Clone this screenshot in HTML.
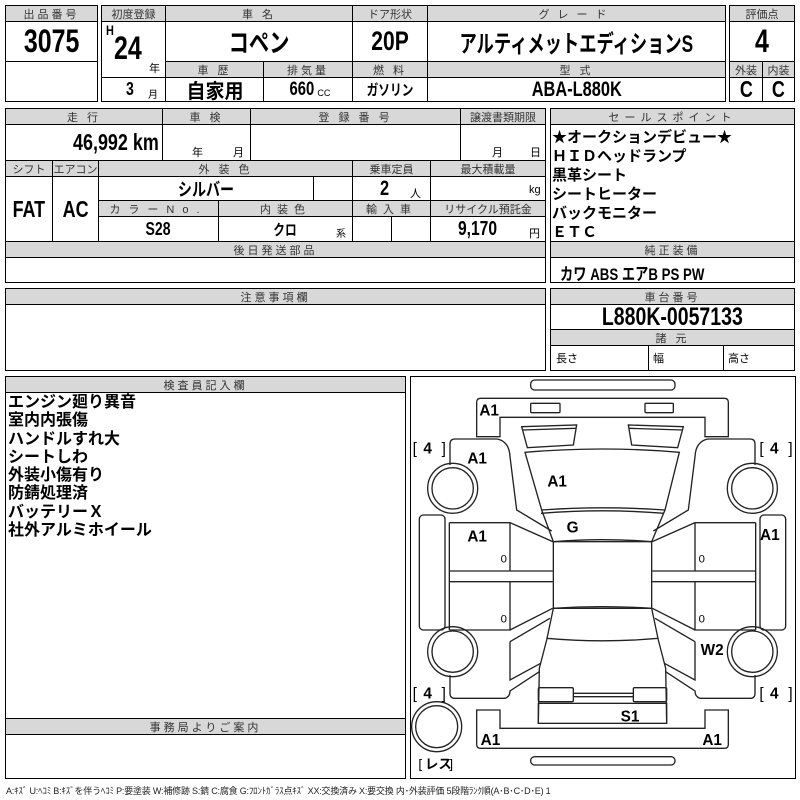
<!DOCTYPE html>
<html><head><meta charset="utf-8"><style>
*{margin:0;padding:0;box-sizing:border-box}
body{width:800px;height:800px;background:#fff;position:relative;overflow:hidden;font-family:"Liberation Sans","Noto Sans CJK JP",sans-serif;color:#000}
.c{position:absolute;border:1px solid #000;display:flex;align-items:center;justify-content:center;white-space:nowrap}
.h{background:#d8d8d8;font-size:11px;letter-spacing:3px;color:#333}
.b{font-weight:bold}
.n{display:inline-block;transform:scaleX(.78);font-weight:bold}
.o{position:absolute;border:1.5px solid #000}
.t{position:absolute;white-space:nowrap}
.tl{transform-origin:left top}
</style></head><body>
<!-- Box A -->
<div class="o" style="left:5px;top:5px;width:93px;height:97px"></div>
<div class="c h" style="left:5px;top:5px;width:93px;height:17px">出品番号</div>
<div class="c" style="left:5px;top:21px;width:93px;height:41px;font-size:32px"><span class="n">3075</span></div>
<!-- Box B -->
<div class="o" style="left:101px;top:5px;width:625px;height:97px"></div>
<div class="c h" style="left:101px;top:5px;width:65px;height:17px;letter-spacing:0">初度登録</div>
<div class="c h" style="left:165px;top:5px;width:188px;height:17px">車 名</div>
<div class="c h" style="left:352px;top:5px;width:76px;height:17px;letter-spacing:0">ドア形状</div>
<div class="c h" style="left:427px;top:5px;width:299px;height:17px;letter-spacing:8px">グレード</div>
<div class="c" style="left:101px;top:21px;width:65px;height:57px"></div>
<div class="t n tl" style="left:106px;top:22px;font-size:14px">H</div>
<div class="t n tl" style="left:114px;top:30px;font-size:32px">24</div>
<div class="t" style="left:149px;top:60px;font-size:11px">年</div>
<div class="c" style="left:165px;top:21px;width:188px;height:41px;font-size:26px"><span class="n">コペン</span></div>
<div class="c" style="left:352px;top:21px;width:76px;height:41px;font-size:27px"><span class="n">20P</span></div>
<div class="c" style="left:427px;top:21px;width:299px;height:41px;font-size:24px"><span class="n" style="transform:scaleX(.72)">アルティメットエディションS</span></div>
<div class="c h" style="left:165px;top:61px;width:99px;height:17px">車 歴</div>
<div class="c h" style="left:263px;top:61px;width:90px;height:17px">排気量</div>
<div class="c h" style="left:352px;top:61px;width:76px;height:17px">燃 料</div>
<div class="c h" style="left:427px;top:61px;width:299px;height:17px">型 式</div>
<div class="c" style="left:101px;top:77px;width:65px;height:25px"></div>
<div class="t n tl" style="left:126px;top:79px;font-size:18px">3</div>
<div class="t" style="left:148px;top:86px;font-size:10px">月</div>
<div class="c" style="left:165px;top:77px;width:99px;height:25px;font-size:20px"><span class="n" style="transform:scaleX(.95)">自家用</span></div>
<div class="c" style="left:263px;top:77px;width:90px;height:25px"><span class="n" style="font-size:19px">660</span><span style="font-size:9px;margin-top:6px">CC</span></div>
<div class="c" style="left:352px;top:77px;width:76px;height:25px;font-size:15px"><span class="n">ガソリン</span></div>
<div class="c" style="left:427px;top:77px;width:299px;height:25px;font-size:21px"><span class="n">ABA-L880K</span></div>
<!-- Box C -->
<div class="o" style="left:729px;top:5px;width:66px;height:97px"></div>
<div class="c h" style="left:729px;top:5px;width:66px;height:17px;letter-spacing:0">評価点</div>
<div class="c" style="left:729px;top:21px;width:66px;height:41px;font-size:32px"><span class="n">4</span></div>
<div class="c h" style="left:729px;top:61px;width:34px;height:17px;letter-spacing:0">外装</div>
<div class="c h" style="left:762px;top:61px;width:33px;height:17px;letter-spacing:0">内装</div>
<div class="c" style="left:729px;top:77px;width:34px;height:25px;font-size:23px"><span class="n">C</span></div>
<div class="c" style="left:762px;top:77px;width:33px;height:25px;font-size:23px"><span class="n">C</span></div>
<!-- Row 2 -->
<div class="o" style="left:5px;top:108px;width:541px;height:175px"></div>
<div class="c h" style="left:5px;top:108px;width:158px;height:17px">走 行</div>
<div class="c h" style="left:162px;top:108px;width:89px;height:17px">車 検</div>
<div class="c h" style="left:250px;top:108px;width:211px;height:17px">登 録 番 号</div>
<div class="c h" style="left:460px;top:108px;width:86px;height:17px;letter-spacing:0">譲渡書類期限</div>
<div class="c" style="left:5px;top:124px;width:158px;height:37px"></div>
<div class="t n tl" style="left:73px;top:129px;font-size:23px">46,992 km</div>
<div class="c" style="left:162px;top:124px;width:89px;height:37px"></div>
<div class="t" style="left:192px;top:144px;font-size:11px">年</div><div class="t" style="left:233px;top:144px;font-size:11px">月</div>
<div class="c" style="left:250px;top:124px;width:211px;height:37px"></div>
<div class="c" style="left:460px;top:124px;width:86px;height:37px"></div>
<div class="t" style="left:492px;top:144px;font-size:11px">月</div><div class="t" style="left:530px;top:144px;font-size:11px">日</div>
<div class="c h" style="left:5px;top:160px;width:48px;height:17px;letter-spacing:0">シフト</div>
<div class="c h" style="left:52px;top:160px;width:47px;height:17px;letter-spacing:0">エアコン</div>
<div class="c h" style="left:98px;top:160px;width:255px;height:17px">外 装 色</div>
<div class="c h" style="left:352px;top:160px;width:79px;height:17px;letter-spacing:0">乗車定員</div>
<div class="c h" style="left:430px;top:160px;width:116px;height:17px;letter-spacing:0">最大積載量</div>
<div class="c" style="left:5px;top:176px;width:48px;height:66px;font-size:23px"><span class="n">FAT</span></div>
<div class="c" style="left:52px;top:176px;width:47px;height:66px;font-size:23px"><span class="n">AC</span></div>
<div class="c" style="left:98px;top:176px;width:216px;height:25px;font-size:18px"><span class="n">シルバー</span></div>
<div class="c" style="left:313px;top:176px;width:40px;height:25px"></div>
<div class="c" style="left:352px;top:176px;width:79px;height:25px"></div>
<div class="t n tl" style="left:380px;top:177px;font-size:21px">2</div><div class="t" style="left:410px;top:185px;font-size:11px">人</div>
<div class="c" style="left:430px;top:176px;width:116px;height:25px"></div>
<div class="t" style="left:529px;top:184px;font-size:11px">kg</div>
<div class="c h" style="left:98px;top:200px;width:121px;height:17px;letter-spacing:8px">カラーNo.</div>
<div class="c h" style="left:218px;top:200px;width:135px;height:17px;letter-spacing:6px">内装色</div>
<div class="c h" style="left:352px;top:200px;width:79px;height:17px;letter-spacing:6px">輸入車</div>
<div class="c h" style="left:430px;top:200px;width:116px;height:17px;letter-spacing:0">リサイクル預託金</div>
<div class="c" style="left:98px;top:216px;width:121px;height:26px;font-size:18px"><span class="n">S28</span></div>
<div class="c" style="left:218px;top:216px;width:135px;height:26px;font-size:15px"><span class="n">クロ</span></div>
<div class="t" style="left:336px;top:225px;font-size:10px">系</div>
<div class="c" style="left:352px;top:216px;width:40px;height:26px"></div>
<div class="c" style="left:391px;top:216px;width:40px;height:26px"></div>
<div class="c" style="left:430px;top:216px;width:116px;height:26px"></div>
<div class="t n tl" style="left:458px;top:218px;font-size:20px">9,170</div><div class="t" style="left:529px;top:225px;font-size:11px">円</div>
<div class="c h" style="left:5px;top:241px;width:541px;height:17px">後日発送部品</div>
<!-- Right row2 -->
<div class="o" style="left:550px;top:108px;width:245px;height:175px"></div>
<div class="c h" style="left:550px;top:108px;width:245px;height:17px;letter-spacing:5px">セールスポイント</div>
<div class="t" style="left:552px;top:128px;font-size:15px;line-height:19px;font-weight:bold">★オークションデビュー★<br>ＨＩＤヘッドランプ<br>黒革シート<br>シートヒーター<br>バックモニター<br>ＥＴＣ</div>
<div class="c h" style="left:550px;top:241px;width:245px;height:17px">純正装備</div>
<div class="t n tl" style="left:560px;top:260px;font-size:17px">カワ ABS エアB PS PW</div>
<!-- Row 3 -->
<div class="o" style="left:5px;top:288px;width:541px;height:83px"></div>
<div class="c h" style="left:5px;top:288px;width:541px;height:17px">注意事項欄</div>
<div class="o" style="left:550px;top:288px;width:245px;height:83px"></div>
<div class="c h" style="left:550px;top:288px;width:245px;height:17px">車台番号</div>
<div class="c" style="left:550px;top:304px;width:245px;height:26px;font-size:25px"><span class="n">L880K-0057133</span></div>
<div class="c h" style="left:550px;top:329px;width:245px;height:17px">諸 元</div>
<div class="c" style="left:550px;top:345px;width:99px;height:26px;justify-content:flex-start;font-size:11px;padding-left:5px">長さ</div>
<div class="c" style="left:648px;top:345px;width:76px;height:26px;justify-content:flex-start;font-size:11px;padding-left:4px">幅</div>
<div class="c" style="left:723px;top:345px;width:72px;height:26px;justify-content:flex-start;font-size:11px;padding-left:4px">高さ</div>
<!-- Inspection -->
<div class="o" style="left:5px;top:376px;width:401px;height:343px"></div>
<div class="c h" style="left:5px;top:376px;width:401px;height:17px">検査員記入欄</div>
<div class="t" style="left:8px;top:394px;font-size:16px;line-height:18.3px;font-weight:bold">エンジン廻り異音<br>室内内張傷<br>ハンドルすれ大<br>シートしわ<br>外装小傷有り<br>防錆処理済<br>バッテリーＸ<br>社外アルミホイール</div>
<div class="o" style="left:5px;top:718px;width:401px;height:61px"></div>
<div class="c h" style="left:5px;top:718px;width:401px;height:17px">事務局よりご案内</div>
<!-- Diagram -->
<div class="o" style="left:410px;top:376px;width:386px;height:403px"></div>
<svg style="position:absolute;left:410px;top:375px" width="390" height="410" viewBox="0 0 1170 1230">
<g fill="none" stroke="#222" stroke-width="4">
<rect x="362" y="15" width="433" height="30" rx="12"/>
<path d="M200,82 Q200,70 212,70 L943,70 Q955,70 955,82 L955,185 L885,185 L885,127 L270,127 L270,185 L200,185 Z"/>
<rect x="362" y="85" width="88" height="28" rx="3"/>
<rect x="705" y="85" width="85" height="28" rx="3"/>
<path d="M345,232 Q577,212 808,232 L765,405 Q577,392 395,405 Z"/>
<path d="M393,415 Q577,400 762,415"/>
<path d="M395,405 L430,500 Q577,488 725,500 L765,405"/>
<rect x="430" y="500" width="295" height="200"/>
<path d="M430,700 Q577,690 725,700"/>
<path d="M430,700 L410,795 L388,880 L385,1045 M725,700 L745,795 L767,880 L770,1045"/>
<path d="M410,790 Q577,805 745,790"/>
<rect x="385" y="938" width="105" height="42" rx="4"/>
<rect x="670" y="938" width="100" height="42" rx="4"/>
<path d="M490,955 L670,955 M490,965 L670,965"/>
<rect x="385" y="985" width="385" height="60"/>
<path d="M200,1005 L270,1005 L270,1060 L885,1060 L885,1005 L955,1005 L955,1108 Q955,1120 943,1120 L212,1120 Q200,1120 200,1108 Z"/>
<rect x="362" y="1145" width="433" height="25" rx="12"/>
<circle cx="80" cy="1055" r="75"/><circle cx="80" cy="1055" r="63"/>
<g id="half">
<path d="M335,155 L500,150 L490,210 L352,218 Z"/>
<path d="M338,165 L497,160"/>
<path d="M120,270 L120,207 Q120,192 135,192 L262,192 Q298,200 300,245 L320,405 L425,468"/>
<circle cx="128" cy="340" r="75"/><circle cx="128" cy="340" r="62"/>
<rect x="28" y="420" width="77" height="345" rx="12"/>
<path d="M118,443 L118,765 M118,443 L300,443 L300,588 M300,443 L428,500 M118,588 L428,588 M118,620 L428,620 M300,620 L300,765 L118,765 M300,765 L428,700"/>
<path d="M300,800 L420,730 M300,800 L300,915 L392,865"/>
<circle cx="128" cy="830" r="75"/><circle cx="128" cy="830" r="62"/>
<path d="M120,900 L120,955 Q120,970 135,970 L285,970 Q300,965 300,948 L388,890"/>
</g>
<use href="#half" transform="translate(1155,0) scale(-1,1)"/>
</g>
<g font-family="Liberation Sans, sans-serif" font-weight="bold" font-size="46" fill="#000">
<text x="208" y="122">A1</text>
<text x="172" y="265">A1</text>
<text x="412" y="335">A1</text>
<text x="470" y="472">G</text>
<text x="172" y="500">A1</text>
<text x="1050" y="495">A1</text>
<text x="872" y="840">W2</text>
<text x="632" y="1040">S1</text>
<text x="212" y="1110">A1</text>
<text x="877" y="1110">A1</text>
<text x="8" y="235" font-weight="normal">[</text><text x="40" y="235">4</text><text x="95" y="235" font-weight="normal">]</text>
<text x="1048" y="235" font-weight="normal">[</text><text x="1080" y="235">4</text><text x="1135" y="235" font-weight="normal">]</text>
<text x="8" y="970" font-weight="normal">[</text><text x="40" y="970">4</text><text x="95" y="970" font-weight="normal">]</text>
<text x="1048" y="970" font-weight="normal">[</text><text x="1080" y="970">4</text><text x="1135" y="970" font-weight="normal">]</text>
<text x="25" y="1180" font-weight="normal" font-size="40">[</text><text x="45" y="1180" font-size="40" font-family="Noto Sans CJK JP, sans-serif">レス</text><text x="118" y="1180" font-weight="normal" font-size="40">]</text>
<g font-weight="normal" font-size="34"><text x="272" y="562">0</text><text x="272" y="742">0</text><text x="866" y="562">0</text><text x="866" y="742">0</text></g>
</g>
</svg>
<div class="t" style="left:6px;top:784px;font-size:9px;color:#222;letter-spacing:-0.2px">A:ｷｽﾞ U:ﾍｺﾐ B:ｷｽﾞを伴うﾍｺﾐ P:要塗装 W:補修跡 S:錆 C:腐食 G:ﾌﾛﾝﾄｶﾞﾗｽ点ｷｽﾞ XX:交換済み X:要交換 内･外装評価 5段階ﾗﾝｸ順(A･B･C･D･E) 1</div>
</body></html>
